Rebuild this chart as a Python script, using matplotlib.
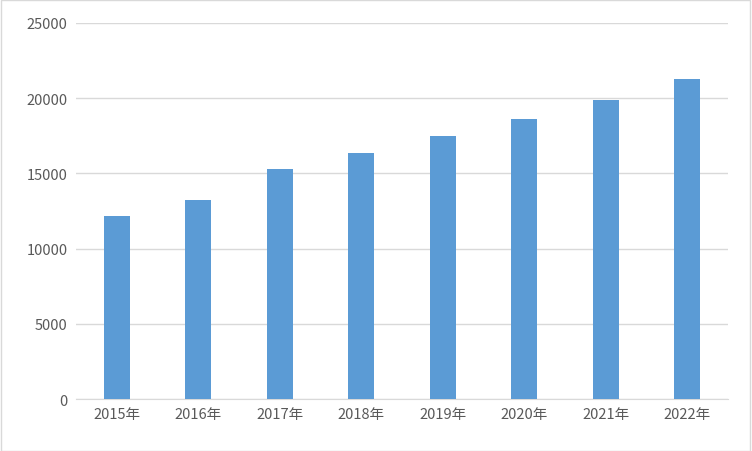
import matplotlib
matplotlib.use("Agg")
import matplotlib.pyplot as plt
from matplotlib.patches import Rectangle

plt.rcParams['font.family'] = ['Noto Sans CJK SC', 'DejaVu Sans']

categories = ['2015年', '2016年', '2017年', '2018年', '2019年', '2020年', '2021年', '2022年']
values = [12170, 13230, 15290, 16360, 17490, 18620, 19880, 21280]

fig = plt.figure(figsize=(7.52, 4.52), dpi=100)
ax = fig.add_axes([0.101, 0.115, 0.867, 0.832])
x = range(len(categories))
ax.bar(x, values, width=0.32, color='#5B9BD5', zorder=3)
ax.set_xlim(-0.5, len(categories) - 0.5)
ax.set_ylim(0, 25000)
ax.set_yticks(range(0, 25001, 5000))
ax.set_xticks(list(x))
ax.set_xticklabels(categories)
ax.grid(axis='y', color='#D9D9D9', linewidth=1, zorder=0)
for s in ['top', 'right', 'left']:
    ax.spines[s].set_visible(False)
ax.spines['bottom'].set_color('#D9D9D9')
ax.tick_params(length=0, labelsize=10.5, colors='#595959', pad=6)
fig.patches.append(Rectangle((0.001, 0.001), 0.997, 0.997, transform=fig.transFigure,
                             fill=False, edgecolor='#D9D9D9', linewidth=1))
fig.savefig('out.png', dpi=100)
